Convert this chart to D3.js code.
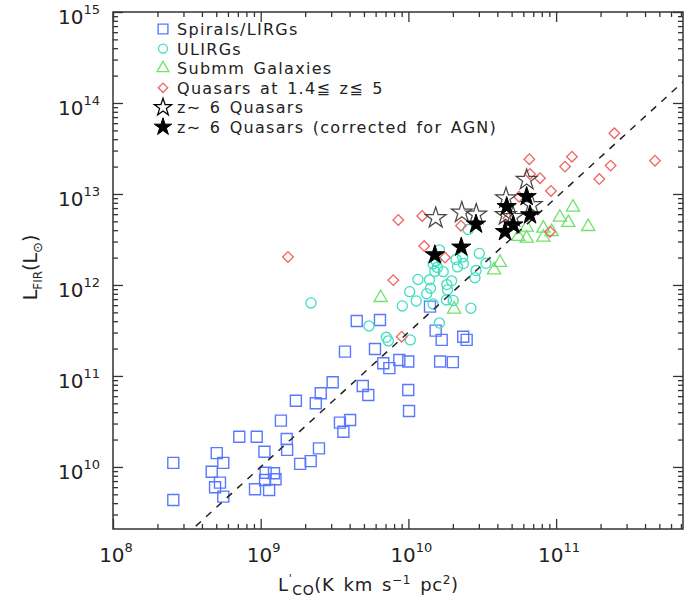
<!DOCTYPE html>
<meta charset="utf-8">
<script src="https://d3js.org/d3.v7.min.js"></script>
<style>
  body { margin: 0; background: #fff; }
  svg text { font-family: 'DejaVu Sans', 'Liberation Sans', sans-serif; fill: #222; }
</style>
<div id="chart"></div>
<script>

// [L'CO (K km/s pc^2), L_FIR (Lsun)]
var spirals = [[2.56e8,1.11e10],[2.56e8,4.34e9],[5.04e8,1.42e10],[5.58e8,1.11e10],[4.66e8,8.87e9],
  [5.30e8,6.72e9],[4.91e8,5.98e9],[5.58e8,4.72e9],[7.16e8,2.15e10],[9.40e8,2.15e10],[1.06e9,1.47e10],
  [1.08e9,8.65e9],[1.23e9,8.53e9],[1.07e9,7.19e9],[1.26e9,7.32e9],[9.15e8,5.69e9],[1.14e9,5.59e9],
  [1.37e9,3.23e10],[1.50e9,2.03e10],[1.51e9,1.54e10],[1.85e9,1.08e10],[2.18e9,1.16e10],[2.48e9,1.60e10],
  [1.73e9,5.35e10],[2.36e9,5.01e10],[2.55e9,6.45e10],[3.07e9,8.53e10],[3.72e9,1.85e11],[3.44e9,3.07e10],
  [3.63e9,2.44e10],[4.03e9,3.28e10],[4.47e9,4.02e11],[6.42e9,4.12e11],[5.94e9,1.98e11],[6.76e9,1.38e11],
  [7.43e9,1.22e11],[8.68e9,1.50e11],[9.98e9,1.44e11],[1.40e10,5.78e11],[1.53e10,3.15e11],[1.68e10,2.49e11],
  [1.64e10,1.44e11],[2.00e10,1.42e11],[2.35e10,2.70e11],[2.48e10,2.49e11],[9.98e9,7.02e10],[1.01e10,4.12e10],
  [4.91e9,7.76e10],[5.35e9,6.18e10]];

var ulirgs = [[2.54e10,4.07e12],[1.62e10,2.43e12],[3.02e10,2.22e12],[1.54e10,1.84e12],[1.47e10,1.70e12],
  [1.57e10,1.56e12],[1.51e10,1.41e12],[1.72e10,1.40e12],[2.10e10,1.91e12],[2.33e10,2.03e12],[2.36e10,1.72e12],
  [2.15e10,1.58e12],[3.35e10,1.73e12],[2.87e10,1.44e12],[2.82e10,1.20e12],[1.16e10,1.15e12],[1.39e10,1.14e12],
  [1.41e10,9.20e11],[1.96e10,1.11e12],[1.82e10,1.01e12],[1.84e10,8.81e11],[1.02e10,8.44e11],[1.33e10,8.02e11],
  [1.13e10,6.67e11],[1.81e10,6.84e11],[2.01e10,6.76e11],[9.09e9,5.88e11],[2.65e10,5.55e11],[1.62e10,3.82e11],
  [5.41e9,3.54e11],[7.08e9,2.66e11],[7.31e9,2.43e11],[1.03e10,2.49e11],[2.19e9,6.34e11],[1.47e10,6.18e11]];

var submm = [[1.30e11,7.14e12],[1.06e11,5.54e12],[1.21e11,4.84e12],[1.65e11,4.37e12],[6.32e10,4.31e12],
  [8.19e10,4.20e12],[9.33e10,3.85e12],[5.55e10,3.40e12],[6.32e10,3.26e12],[8.19e10,3.34e12],
  [4.17e10,1.76e12],[3.80e10,1.46e12],[6.49e9,7.25e11],[2.04e10,5.41e11]];

var quasarsMidZ = [[2.48e11,4.65e13],[6.59e10,2.41e13],[1.28e11,2.57e13],[1.15e11,2.00e13],[2.34e11,2.05e13],
  [4.67e11,2.32e13],[6.66e10,1.66e13],[7.78e10,1.49e13],[1.96e11,1.46e13],[9.23e10,1.08e13],[5.61e10,9.34e12],
  [1.24e10,5.73e12],[2.27e10,4.48e12],[4.75e10,5.41e12],[8.54e9,5.18e12],[9.10e10,3.85e12],[1.28e10,2.68e12],
  [1.77e10,2.00e12],[7.90e9,1.13e12],[9.01e9,2.70e11],[1.53e9,2.03e12]];

var z6Quasars = [[1.53e10,5.45e12],[2.30e10,6.26e12],[2.88e10,5.95e12],[4.58e10,8.97e12],[4.56e10,5.88e12],
  [6.32e10,1.43e13],[6.84e10,7.57e12],[5.11e10,5.60e12]];

var z6QuasarsAGN = [[1.51e10,2.14e12],[2.28e10,2.60e12],[2.87e10,4.65e12],[4.63e10,7.25e12],[6.32e10,9.34e12],
  [6.66e10,5.88e12],[5.13e10,4.56e12],[4.51e10,3.85e12]];

// dashed fit: log L_FIR = slope * log L'CO + intercept
var fitSlope = 1.48, fitIntercept = -3.32;

var xMajor = [1e8, 1e9, 1e10, 1e11];
var yMajor = [1e10, 1e11, 1e12, 1e13, 1e14, 1e15];

var legendLabels = ["Spirals/LIRGs", "ULIRGs", "Submm Galaxies", "Quasars at 1.4\u2266 z\u2266 5",
  "z\u223C 6 Quasars", "z\u223C 6 Quasars (corrected for AGN)"];

var margin = {top: 12, right: 7, bottom: 72, left: 113},
    width = 690 - margin.left - margin.right,
    height = 601 - margin.top - margin.bottom;

var svg = d3.select("#chart")
  .append("svg")
    .attr("width", 690)
    .attr("height", 601)
  .append("g")
    .attr("transform", "translate(" + margin.left + "," + margin.top + ")");

var x = d3.scaleLog().domain([1e8, 7.23e11]).range([0, width]);
var y = d3.scaleLog().domain([2.08e9, 1e15]).range([height, 0]);

svg.append("clipPath").attr("id", "clip")
  .append("rect").attr("width", width).attr("height", height);

// minor ticks (2..9 per decade)
function minors(scale) {
  var d = scale.domain(), out = [];
  for (var e = Math.floor(Math.log10(d[0])); e <= Math.ceil(Math.log10(d[1])); e++) {
    for (var k = 2; k <= 9; k++) {
      var v = k * Math.pow(10, e);
      if (v > d[0] && v < d[1]) out.push(v);
    }
  }
  return out;
}

var tickColor = "#333";
function drawAxis(axis, vals, size) {
  var g = svg.append("g").call(axis.tickValues(vals).tickSizeInner(size).tickSizeOuter(0).tickFormat(""));
  g.select(".domain").remove();
  g.selectAll("line").attr("stroke", tickColor).attr("stroke-width", 1.3);
  return g;
}
drawAxis(d3.axisBottom(x), xMajor, -10).attr("transform", "translate(0," + height + ")");
drawAxis(d3.axisBottom(x), minors(x), -5).attr("transform", "translate(0," + height + ")");
drawAxis(d3.axisTop(x), xMajor, -10);
drawAxis(d3.axisTop(x), minors(x), -5);
drawAxis(d3.axisLeft(y), yMajor, -10);
drawAxis(d3.axisLeft(y), minors(y), -5);
drawAxis(d3.axisRight(y), yMajor, -10).attr("transform", "translate(" + width + ",0)");
drawAxis(d3.axisRight(y), minors(y), -5).attr("transform", "translate(" + width + ",0)");

svg.append("rect")
  .attr("width", width).attr("height", height)
  .attr("fill", "none").attr("stroke", tickColor).attr("stroke-width", 1.5);

// tick labels
svg.selectAll(".ylab").data(yMajor).enter().append("text")
  .attr("x", -13).attr("y", function(d) { return y(d) + 12; })
  .style("text-anchor", "end").style("font-size", "20px")
  .each(function(d) {
    var t = d3.select(this);
    t.append("tspan").text("10");
    t.append("tspan").attr("dy", -10).style("font-size", "13px").text(Math.round(Math.log10(d)));
  });

svg.selectAll(".xlab").data(xMajor).enter().append("text")
  .attr("x", function(d) { return x(d) + 3; }).attr("y", height + 33)
  .style("text-anchor", "middle").style("font-size", "20px")
  .each(function(d) {
    var t = d3.select(this);
    t.append("tspan").text("10");
    t.append("tspan").attr("dy", -10).style("font-size", "13px").text(Math.round(Math.log10(d)));
  });

// axis titles
var xt = svg.append("text")
  .attr("x", 165).attr("y", height + 62)
  .style("font-size", "18px").style("letter-spacing", "0.6px").style("word-spacing", "3px");
xt.append("tspan").text("L");
xt.append("tspan").attr("dy", -9).style("font-size", "11px").text("'");
xt.append("tspan").attr("dy", 13).style("font-size", "14px").text("CO");
xt.append("tspan").attr("dy", -4).text("(K km s");
xt.append("tspan").attr("dy", -7).style("font-size", "12px").text("\u22121");
xt.append("tspan").attr("dy", 7).text(" pc");
xt.append("tspan").attr("dy", -7).style("font-size", "12px").text("2");
xt.append("tspan").attr("dy", 7).text(")");

var yt = svg.append("text")
  .attr("transform", "translate(" + (-76) + "," + (height / 2 - 3) + ") rotate(-90)")
  .style("text-anchor", "middle").style("font-size", "19px");
yt.append("tspan").text("L");
yt.append("tspan").attr("dy", 5).style("font-size", "12px").text("FIR");
yt.append("tspan").attr("dy", -5).text("(L");
yt.append("tspan").attr("dy", 5).style("font-size", "13px").text("\u2299");
yt.append("tspan").attr("dy", -5).text(")");

// series
var series = [
  {data: spirals, shape: d3.symbolSquare, size: 121, rot: 0, stroke: "#5a78ff", fill: "none", sw: 1.4},
  {data: ulirgs, shape: d3.symbolCircle, size: 80, rot: 0, stroke: "#3fe0c0", fill: "none", sw: 1.3},
  {data: submm, shape: d3.symbolTriangle, size: 75, rot: 0, stroke: "#6ee26a", fill: "none", sw: 1.3},
  {data: quasarsMidZ, shape: d3.symbolSquare, size: 56, rot: 45, stroke: "#f06464", fill: "none", sw: 1.3},
  {data: z6Quasars, shape: d3.symbolStar, size: 135, rot: 0, stroke: "#444", fill: "none", sw: 1.2},
  {data: z6QuasarsAGN, shape: d3.symbolStar, size: 115, rot: 0, stroke: "#000", fill: "#000", sw: 1}
];

var plot = svg.append("g").attr("clip-path", "url(#clip)");

function drawSeries(s) {
  plot.append("g").selectAll("path")
    .data(s.data)
    .enter().append("path")
      .attr("transform", function(d) { return "translate(" + x(d[0]) + "," + y(d[1]) + ") rotate(" + s.rot + ")"; })
      .attr("d", d3.symbol().type(s.shape).size(s.size))
      .attr("fill", s.fill)
      .attr("stroke", s.stroke)
      .attr("stroke-width", s.sw);
}
series.slice(0, 4).forEach(drawSeries);

var fitX = x.domain();
plot.append("line")
  .attr("x1", x(fitX[0])).attr("y1", y(Math.pow(10, fitSlope * Math.log10(fitX[0]) + fitIntercept)))
  .attr("x2", x(fitX[1])).attr("y2", y(Math.pow(10, fitSlope * Math.log10(fitX[1]) + fitIntercept)))
  .attr("stroke", "#222").attr("stroke-width", 1.5).attr("stroke-dasharray", "7,7");

series.slice(4).forEach(drawSeries);

// legend
var legend = svg.selectAll(".legend")
  .data(series)
  .enter().append("g")
    .attr("class", "legend")
    .attr("transform", function(d, i) { return "translate(0," + (i * 19.6) + ")"; });

legend.append("path")
  .attr("transform", function(d) { return "translate(50,17) rotate(" + d.rot + ")"; })
  .attr("d", function(d) { return d3.symbol().type(d.shape).size(d.shape === d3.symbolStar ? 95 : d.size * 0.8)(); })
  .attr("fill", function(d) { return d.fill; })
  .attr("stroke", function(d) { return d.stroke === "#444" ? "#000" : d.stroke; })
  .attr("stroke-width", function(d) { return d.sw; });

legend.append("text")
  .attr("x", 64).attr("y", 23)
  .style("font-size", "16px").style("letter-spacing", "1.3px").style("word-spacing", "2px")
  .text(function(d, i) { return legendLabels[i]; });

</script>
